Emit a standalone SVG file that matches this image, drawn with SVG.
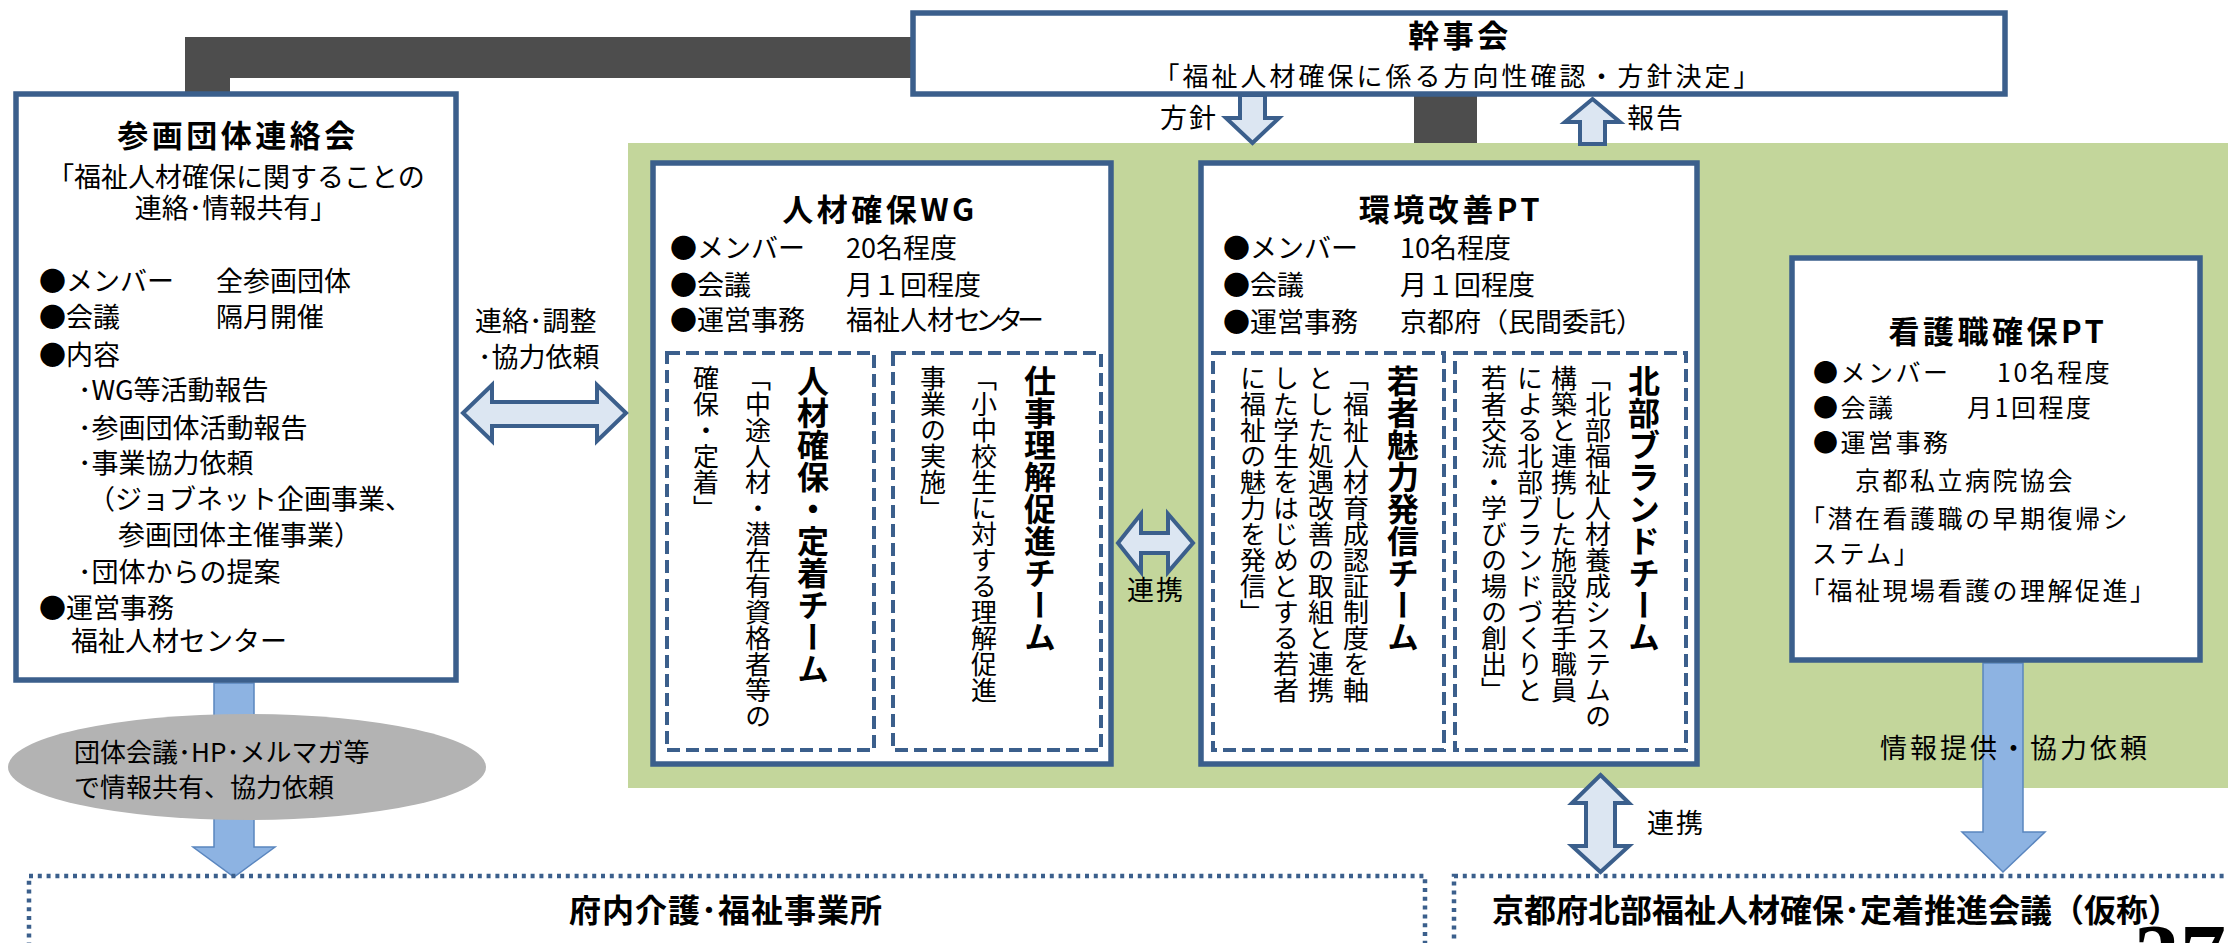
<svg xmlns="http://www.w3.org/2000/svg" width="2228" height="943" viewBox="0 0 2228 943">
<style>
.t{font-family:"Noto Sans CJK JP","Noto Sans",sans-serif;fill:#000;font-size:27px}
.b{font-weight:bold}
.ti{font-weight:bold;font-size:31px;letter-spacing:3.5px}
.box{fill:#fff;stroke:#3B5F8C;stroke-width:5.5}
.dash{fill:none;stroke:#3B5F8C;stroke-width:4;stroke-dasharray:13 6}
.dot{fill:none;stroke:#3B5F8C;stroke-width:4.5;stroke-dasharray:4 4.8}
.la{fill:#DCE6F2;stroke:#3B5F8C;stroke-width:4;stroke-linejoin:miter}
.ba{fill:#8DB3E2;stroke:#5A86BF;stroke-width:1.5}
.dk{fill:#4D4D4D}
.v{writing-mode:vertical-rl;font-size:26px}
.vb{writing-mode:vertical-rl;font-size:32px;font-weight:bold}
.n{font-size:25px;letter-spacing:2.5px}
</style>
<rect x="628" y="143" width="1600" height="645" fill="#C3D69B"/>
<g id="connectors">
<polygon class="dk" points="185,37 912,37 912,78 230,78 230,92 185,92"/>
<rect class="dk" x="1414" y="95" width="63" height="48"/>
<polygon class="la" points="1240,95 1265,95 1265,118 1279,118 1252.5,143 1226,118 1240,118"/>
<polygon class="la" points="1592.5,99 1620,122 1605,122 1605,144 1580,144 1580,122 1565,122"/>
<polygon class="la" points="463,413 492,385 492,402 597,402 597,385 626,413 597,441 597,426 492,426 492,441"/>
<polygon class="la" points="1118,543 1141,514 1141,533 1168,533 1168,514 1193,543 1168,572 1168,553 1141,553 1141,572"/>
<polygon class="la" points="1600.5,775 1629,803 1615,803 1615,846 1629,846 1600.5,872 1572,846 1586,846 1586,803 1572,803"/>
<polygon class="ba" points="214,683 254,683 254,847 275,847 234,877 193,847 214,847"/>
<polygon class="ba" points="1983,663 2023,663 2023,832 2045,832 2003,872 1962,832 1983,832"/>
<text class="t" x="1160" y="128" style="letter-spacing:2px">方針</text>
<text class="t" x="1627" y="128" style="letter-spacing:2px">報告</text>
<text class="t" x="475" y="331">連絡･調整</text>
<text class="t" x="478" y="367">･協力依頼</text>
<text class="t" x="1127" y="600" style="letter-spacing:2px">連携</text>
<text class="t" x="1647" y="833" style="letter-spacing:2px">連携</text>
<text class="t" x="1880" y="758" style="letter-spacing:3px">情報提供・協力依頼</text>
</g>
<g id="kanjikai">
<rect class="box" x="913" y="13" width="1092" height="81"/>
<text class="t ti" x="1460" y="47" text-anchor="middle">幹事会</text>
<text class="t" x="1458" y="86" text-anchor="middle" style="font-size:26px;letter-spacing:3px">「福祉人材確保に係る方向性確認・方針決定」</text>
</g>
<g id="sankaku">
<rect class="box" x="16" y="94" width="440" height="586"/>
<text class="t ti" x="238" y="147" text-anchor="middle">参画団体連絡会</text>
<text class="t" x="236" y="187" text-anchor="middle">「福祉人材確保に関することの</text>
<text class="t" x="236" y="218" text-anchor="middle">連絡･情報共有」</text>
<text class="t" x="39" y="291">●メンバー</text><text class="t" x="216" y="291">全参画団体</text>
<text class="t" x="39" y="327">●会議</text><text class="t" x="216" y="327">隔月開催</text>
<text class="t" x="39" y="365">●内容</text>
<text class="t" x="78" y="400">･WG等活動報告</text>
<text class="t" x="78" y="438">･参画団体活動報告</text>
<text class="t" x="78" y="473">･事業協力依頼</text>
<text class="t" x="88" y="509">（ジョブネット企画事業、</text>
<text class="t" x="118" y="545">参画団体主催事業）</text>
<text class="t" x="78" y="582">･団体からの提案</text>
<text class="t" x="39" y="618">●運営事務</text>
<text class="t" x="71" y="651">福祉人材センター</text>
</g>
<g id="info-share">
<ellipse cx="247" cy="767" rx="239" ry="53" fill="#B3B3B3"/>
<text class="t" x="74" y="762" style="font-size:26px">団体会議･HP･メルマガ等</text>
<text class="t" x="74" y="797" style="font-size:26px">で情報共有、協力依頼</text>
</g>
<g id="wg">
<rect class="box" x="653" y="163" width="458" height="601"/>
<text class="t ti" x="880" y="221" text-anchor="middle">人材確保WG</text>
<text class="t" x="670" y="258">●メンバー</text><text class="t" x="846" y="258">20名程度</text>
<text class="t" x="670" y="295">●会議</text><text class="t" x="846" y="295">月１回程度</text>
<text class="t" x="670" y="330">●運営事務</text><text class="t" x="846" y="330">福祉人材<tspan style="letter-spacing:-6px">センター</tspan></text>
<rect class="dash" x="667" y="353" width="207" height="397"/>
<rect class="dash" x="893" y="353" width="208" height="397"/>
<text class="t vb" x="813" y="365">人材確保・定着チーム</text>
<text class="t v" x="758" y="365">「中途人材・潜在有資格者等の</text>
<text class="t v" x="706" y="365">確保・定着」</text>
<text class="t vb" x="1040" y="365">仕事理解促進チーム</text>
<text class="t v" x="984" y="365">「小中校生に対する理解促進</text>
<text class="t v" x="933" y="365">事業の実施」</text>
</g>
<g id="kankyo">
<rect class="box" x="1201" y="163" width="496" height="601"/>
<text class="t ti" x="1451" y="221" text-anchor="middle">環境改善PT</text>
<text class="t" x="1223" y="258">●メンバー</text><text class="t" x="1400" y="258">10名程度</text>
<text class="t" x="1223" y="295">●会議</text><text class="t" x="1400" y="295">月１回程度</text>
<text class="t" x="1223" y="332">●運営事務</text><text class="t" x="1400" y="332">京都府（民間委託）</text>
<rect class="dash" x="1213" y="353" width="231" height="397"/>
<rect class="dash" x="1455" y="353" width="231" height="397"/>
<text class="t vb" x="1403" y="365">若者魅力発信チーム</text>
<text class="t v" x="1356" y="365">「福祉人材育成認証制度を軸</text>
<text class="t v" x="1321" y="365">とした処遇改善の取組と連携</text>
<text class="t v" x="1286" y="365">した学生をはじめとする若者</text>
<text class="t v" x="1253" y="365">に福祉の魅力を発信」</text>
<text class="t vb" x="1644" y="365">北部ブランドチーム</text>
<text class="t v" x="1598" y="365">「北部福祉人材養成システムの</text>
<text class="t v" x="1564" y="365">構築と連携した施設若手職員</text>
<text class="t v" x="1530" y="365">による北部ブランドづくりと</text>
<text class="t v" x="1494" y="365">若者交流・学びの場の創出」</text>
</g>
<g id="kango">
<rect class="box" x="1792" y="258" width="408" height="402"/>
<text class="t ti" x="1998" y="343" text-anchor="middle">看護職確保PT</text>
<text class="t n" x="1813" y="382">●メンバー</text><text class="t n" x="1997" y="382">10名程度</text>
<text class="t n" x="1813" y="417">●会議</text><text class="t n" x="1967" y="417">月1回程度</text>
<text class="t n" x="1813" y="452">●運営事務</text>
<text class="t n" x="1855" y="490">京都私立病院協会</text>
<text class="t n" x="1800" y="528">「潜在看護職の早期復帰シ</text>
<text class="t n" x="1812" y="563">ステム」</text>
<text class="t n" x="1800" y="600">「福祉現場看護の理解促進」</text>
</g>
<g id="funai">
<rect class="dot" x="29" y="876" width="1396" height="100"/>
<text class="t b" x="726" y="922" text-anchor="middle" style="font-size:32px;letter-spacing:1px">府内介護･福祉事業所</text>
</g>
<g id="hokubu">
<rect class="dot" x="1454" y="876" width="820" height="100"/>
<text class="t b" x="1492" y="922" style="font-size:32px">京都府北部福祉人材確保･定着推進会議（仮称）</text>
</g>
<text x="2134" y="987" style="font-family:'Liberation Serif',serif;font-weight:bold;font-size:92px">37</text>
</svg>
